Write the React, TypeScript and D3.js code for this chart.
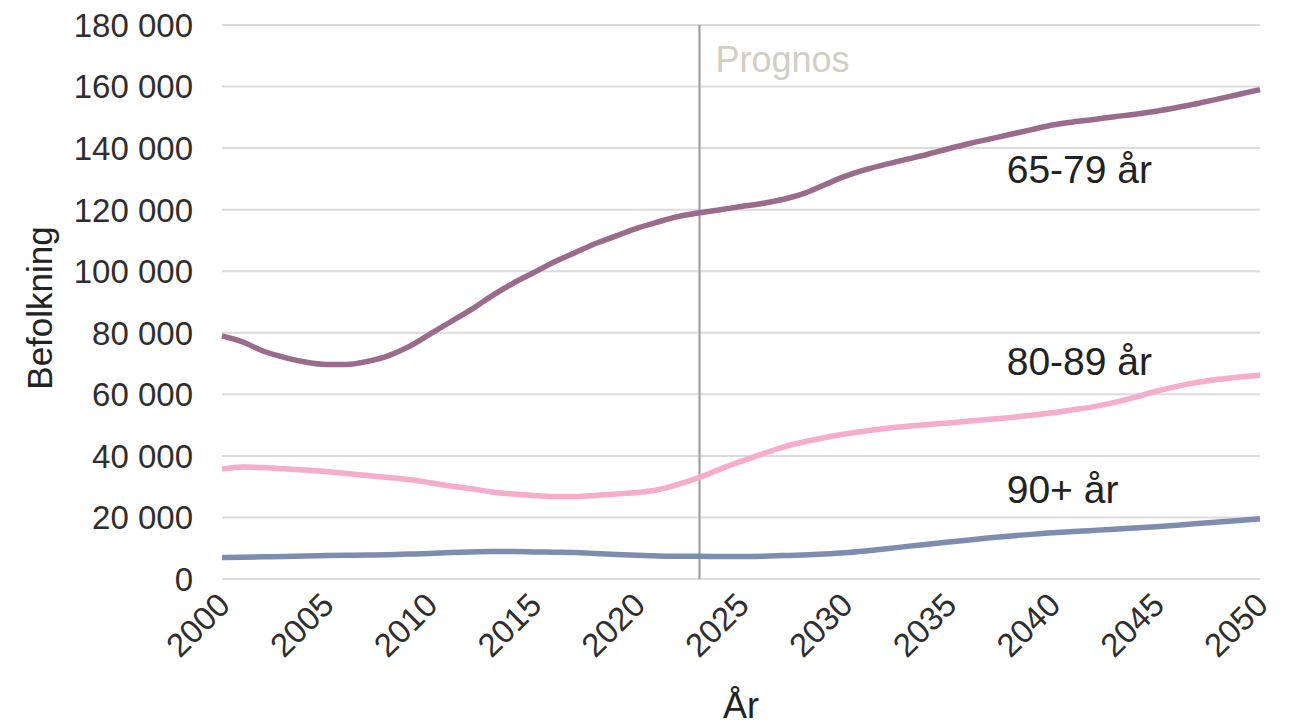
import React from "react";
import * as d3 from "d3";

const width = 1289;
const height = 727;
const margin = { top: 25, right: 29, bottom: 148, left: 222 };

const years = d3.range(2000, 2051);

const age6579 = [
  79000, 77000, 74000, 72000, 70500, 69700, 69700, 70700, 72500, 75500,
  79500, 83500, 87500, 92000, 96000, 99500, 103000, 106000, 109000, 111500,
  114000, 116000, 117800, 119000, 120000, 121000, 122000, 123300, 125200, 128000,
  130800, 133000, 134800, 136400, 138000, 139800, 141500, 143000, 144500, 146000,
  147500, 148500, 149300, 150200, 151000, 152000, 153200, 154500, 156000, 157500,
  159000
];

const age8089 = [
  35700, 36400, 36200, 35800, 35400, 34900, 34300, 33600, 33000, 32300,
  31300, 30200, 29300, 28300, 27600, 27100, 26800, 26800, 27100, 27600,
  28100, 29000, 30800, 33000, 35700, 38200, 40600, 42800, 44500, 45900,
  47100, 48100, 49000, 49600, 50200, 50700, 51300, 51900, 52500, 53200,
  54000, 55000, 56000, 57400, 59100, 61000, 62600, 63900, 64900, 65600,
  66200
];

const age90 = [
  7000, 7100, 7200, 7300, 7500, 7600, 7700, 7800, 7900, 8100,
  8300, 8600, 8800, 8900, 8900, 8800, 8700, 8600, 8300, 8000,
  7700, 7500, 7400, 7400, 7300, 7300, 7400, 7600, 7800, 8100,
  8500, 9100, 9800, 10600, 11300, 12000, 12700, 13400, 14000, 14500,
  15000, 15400, 15800, 16200, 16600, 17000, 17500, 18000, 18500, 19000,
  19600
];

const series = [
  { label: "65-79 år", values: age6579, color: "#9b6b8d", labelYear: 2037.8, labelValue: 128700 },
  { label: "80-89 år", values: age8089, color: "#f5adc9", labelYear: 2037.8, labelValue: 66300 },
  { label: "90+ år", values: age90, color: "#7d8db0", labelYear: 2037.8, labelValue: 24700 }
];

const yTicks = d3.range(0, 180001, 20000);
const xTicks = d3.range(2000, 2051, 5);
const prognosYear = 2023;

const fmt = (v: number) => d3.format(",")(v).replace(/,/g, " ");

export default function App() {
  const x = d3
    .scaleLinear()
    .domain([2000, 2050])
    .range([margin.left, width - margin.right]);
  const y = d3
    .scaleLinear()
    .domain([0, 180000])
    .range([height - margin.bottom, margin.top]);

  const line = d3
    .line<number>()
    .x((_, i) => x(years[i]))
    .y((d) => y(d))
    .curve(d3.curveMonotoneX);

  const font = "'Liberation Sans', Arial, sans-serif";

  return (
    <svg
      width={width}
      height={height}
      style={{ position: "absolute", left: 0, top: 0, background: "#fff" }}
      fontFamily={font}
    >
      {yTicks.map((t) => (
        <g key={t}>
          <line x1={x(2000)} x2={x(2050)} y1={y(t)} y2={y(t)} stroke="#dcdcdc" strokeWidth={2} />
          <text x={193} y={y(t)} dy="0.36em" textAnchor="end" fontSize={33} fill="#2e2e2e">
            {fmt(t)}
          </text>
        </g>
      ))}

      <line
        x1={x(prognosYear)}
        x2={x(prognosYear)}
        y1={y(180000)}
        y2={y(0)}
        stroke="#9a9a9a"
        strokeWidth={2}
      />
      <text x={x(prognosYear) + 16} y={72} fontSize={36} fill="#d2cec4">
        Prognos
      </text>

      {series.map((s) => (
        <path
          key={s.label}
          d={line(s.values) || ""}
          fill="none"
          stroke={s.color}
          strokeWidth={5.5}
          strokeLinejoin="round"
        />
      ))}

      {series.map((s) => (
        <text key={s.label + "t"} x={x(s.labelYear)} y={y(s.labelValue)} fontSize={39} fill="#222">
          {s.label}
        </text>
      ))}

      {xTicks.map((t) => (
        <text
          key={t}
          transform={`translate(${x(t) + 10},${y(0) + 28}) rotate(-45)`}
          textAnchor="end"
          fontSize={33}
          fill="#2e2e2e"
        >
          {t}
        </text>
      ))}

      <text
        transform={`translate(52,${308}) rotate(-90)`}
        textAnchor="middle"
        fontSize={35}
        fill="#222"
      >
        Befolkning
      </text>
      <text x={741} y={718} textAnchor="middle" fontSize={36} fill="#222">
        År
      </text>
    </svg>
  );
}
